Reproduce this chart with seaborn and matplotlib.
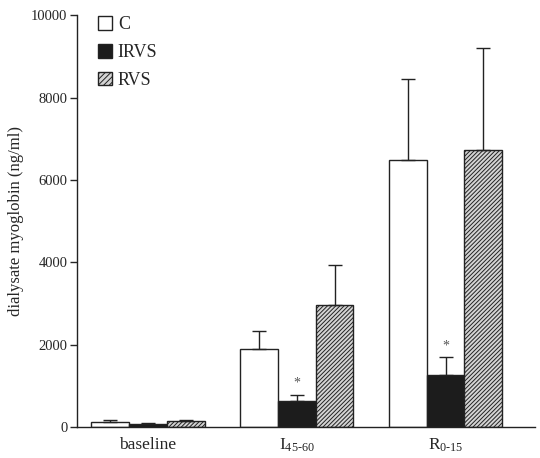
import numpy as np
import matplotlib
matplotlib.use('Agg')
import matplotlib.pyplot as plt
import pandas as pd
import seaborn as sns

# =========================
# DATA
# =========================
periods = ['baseline', 'I45-60', 'R0-15']
period_labels = ['baseline', r'$\mathregular{I_{45‐60}}$', r'$\mathregular{R_{0‐15}}$']
groups = ['C', 'IRVS', 'RVS']

mean_c = [120, 1890, 6480]
mean_irvs = [70, 640, 1270]
mean_rvs = [140, 2960, 6720]

err_c = [50, 450, 1960]
err_irvs = [20, 140, 420]
err_rvs = [40, 970, 2490]

significant_irvs = [False, True, True]

df = pd.DataFrame({
    'period': periods * 3,
    'group': np.repeat(groups, len(periods)),
    'value': mean_c + mean_irvs + mean_rvs,
})
errors = {'C': err_c, 'IRVS': err_irvs, 'RVS': err_rvs}

# =========================
# PLOTTING
# =========================
sns.set_theme('paper')
sns.set_style('white')
plt.rcParams['font.family'] = ['Liberation Serif', 'DejaVu Serif']
plt.rcParams['hatch.color'] = '#3a3a3a'
plt.rcParams['hatch.linewidth'] = 0.7

fig = plt.figure(figsize=(5.4, 4.58), dpi=100)
ax = fig.add_axes([0.1426, 0.0677, 0.848, 0.899])

palette = {'C': 'white', 'IRVS': '#1c1c1c', 'RVS': '#d4d4d4'}
sns.barplot(data=df, x='period', y='value', hue='group', order=periods,
            hue_order=groups, palette=palette, width=0.76, edgecolor='#222222',
            linewidth=1.0, saturation=1, errorbar=None, legend=True, ax=ax)

# hatch the RVS bars and add one-sided error bars
for grp, cont in zip(groups, ax.containers):
    xs = [b.get_x() + b.get_width() / 2 for b in cont]
    hs = [b.get_height() for b in cont]
    if grp == 'RVS':
        for b in cont:
            b.set_hatch('////////')
    ax.errorbar(xs, hs, yerr=[np.zeros(len(hs)), errors[grp]], fmt='none',
                ecolor='#222222', elinewidth=1.0, capsize=5, capthick=1.0)
    if grp == 'IRVS':
        for x, h, e, s in zip(xs, hs, errors[grp], significant_irvs):
            if s:
                ax.text(x, h + e + 120, '*', ha='center', va='bottom',
                        fontsize=10, color='#555555')

ax.set_ylim(0, 10000)
ax.set_xlim(-0.477, 2.6)
ax.set_yticks(range(0, 10001, 2000))
ax.set_xticks(range(len(periods)))
ax.set_xticklabels(period_labels, fontsize=12.5)
ax.tick_params(axis='y', direction='out', length=5, width=1, labelsize=10.5,
               left=True, pad=2)
ax.tick_params(axis='x', length=0, pad=7)
ax.set_xlabel('')
ax.set_ylabel('dialysate myoglobin (ng/ml)', fontsize=12, labelpad=5)
sns.despine(ax=ax)
for s in ['left', 'bottom']:
    ax.spines[s].set_linewidth(1.0)
    ax.spines[s].set_color('#222222')

leg = ax.legend(loc='upper left', bbox_to_anchor=(0.03, 1.015), frameon=False,
                fontsize=13, handlelength=0.8, handleheight=0.8,
                handletextpad=0.3, labelspacing=0.58, borderaxespad=0)
for handle, grp in zip(leg.legend_handles, groups):
    handle.set_edgecolor('#222222')
    if grp == 'RVS':
        handle.set_hatch('//////')

fig.savefig('out.png', dpi=100)
